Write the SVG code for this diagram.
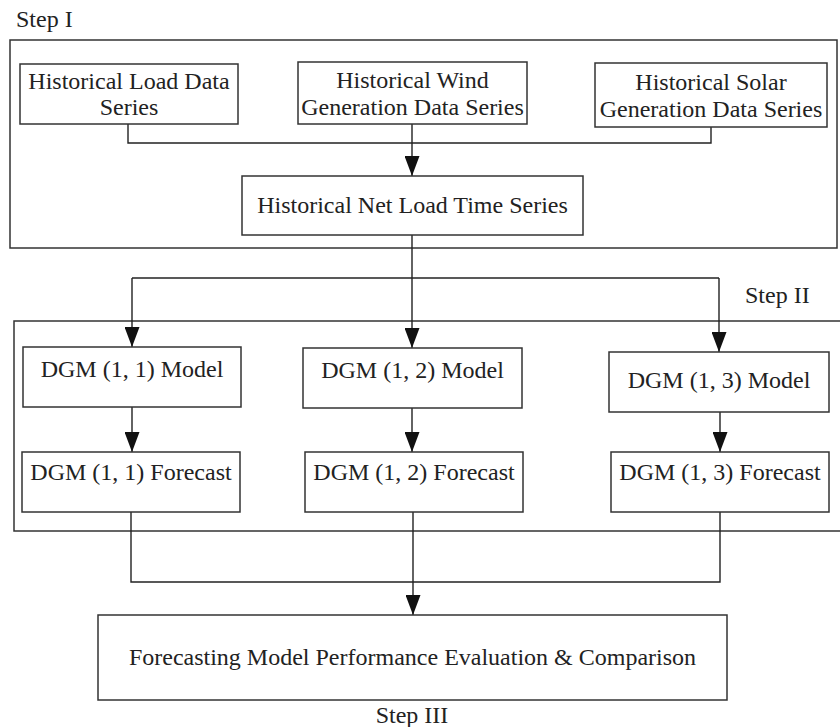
<svg xmlns="http://www.w3.org/2000/svg" width="840" height="727" viewBox="0 0 840 727">
<style>
.box{fill:#fff;stroke:#333;stroke-width:1.5}
.frame{fill:none;stroke:#333;stroke-width:1.5}
.ln{fill:none;stroke:#222;stroke-width:1.4}
</style>
<defs>
<marker id="arr" viewBox="0 0 20 15" refX="20" refY="7.5" markerWidth="20" markerHeight="15" markerUnits="userSpaceOnUse" orient="auto">
<path d="M0,0 L20,7.5 L0,15 Z" fill="#111"/>
</marker>
</defs>
<rect id="stepI" class="frame" x="10" y="40" width="827" height="208"/>
<path id="stepII" class="frame" d="M842,321 H14 V531 H842"/>
<text x="16" y="27" font-family="Liberation Serif, serif" font-size="24" fill="#222">Step I</text>
<text x="745" y="303" font-family="Liberation Serif, serif" font-size="24" fill="#222">Step II</text>
<text x="412" y="723" text-anchor="middle" font-family="Liberation Serif, serif" font-size="24" fill="#222">Step III</text>
<g id="connectors">
<path class="ln" d="M128,124 V143 H711 V127"/>
<path class="ln" d="M412,124 V176" marker-end="url(#arr)"/>
<path class="ln" d="M412,235 V278"/>
<path class="ln" d="M132,278 H719"/>
<path class="ln" d="M132,278 V347" marker-end="url(#arr)"/>
<path class="ln" d="M412,278 V348" marker-end="url(#arr)"/>
<path class="ln" d="M719,278 V352" marker-end="url(#arr)"/>
<path class="ln" d="M132,407 V452" marker-end="url(#arr)"/>
<path class="ln" d="M412,408 V452" marker-end="url(#arr)"/>
<path class="ln" d="M720,412 V452" marker-end="url(#arr)"/>
<path class="ln" d="M131,512 V582 H720 V512"/>
<path class="ln" d="M413,512 V615" marker-end="url(#arr)"/>
</g>
<g id="load"><rect class="box" x="20" y="64" width="218" height="60"/><text x="129" y="89" text-anchor="middle" font-family="Liberation Serif, serif" font-size="24" fill="#222">Historical Load Data</text><text x="129" y="115" text-anchor="middle" font-family="Liberation Serif, serif" font-size="24" fill="#222">Series</text></g>
<g id="wind"><rect class="box" x="298" y="62" width="229" height="62"/><text x="412.5" y="88" text-anchor="middle" font-family="Liberation Serif, serif" font-size="24" fill="#222">Historical Wind</text><text x="412.5" y="115" text-anchor="middle" font-family="Liberation Serif, serif" font-size="24" fill="#222">Generation Data Series</text></g>
<g id="solar"><rect class="box" x="595" y="63" width="232" height="64"/><text x="711" y="90" text-anchor="middle" font-family="Liberation Serif, serif" font-size="24" fill="#222">Historical Solar</text><text x="711" y="117" text-anchor="middle" font-family="Liberation Serif, serif" font-size="24" fill="#222">Generation Data Series</text></g>
<g id="netload"><rect class="box" x="242" y="176" width="341" height="59"/><text x="412.5" y="213" text-anchor="middle" font-family="Liberation Serif, serif" font-size="24" fill="#222">Historical Net Load Time Series</text></g>
<g id="m1"><rect class="box" x="23" y="347" width="218" height="60"/><text x="132" y="377" text-anchor="middle" font-family="Liberation Serif, serif" font-size="24" fill="#222">DGM (1, 1) Model</text></g>
<g id="m2"><rect class="box" x="303" y="348" width="219" height="60"/><text x="412.5" y="378" text-anchor="middle" font-family="Liberation Serif, serif" font-size="24" fill="#222">DGM (1, 2) Model</text></g>
<g id="m3"><rect class="box" x="609" y="352" width="220" height="60"/><text x="719" y="388" text-anchor="middle" font-family="Liberation Serif, serif" font-size="24" fill="#222">DGM (1, 3) Model</text></g>
<g id="f1"><rect class="box" x="22" y="452" width="218" height="60"/><text x="131" y="480" text-anchor="middle" font-family="Liberation Serif, serif" font-size="24" fill="#222">DGM (1, 1) Forecast</text></g>
<g id="f2"><rect class="box" x="305" y="452" width="218" height="60"/><text x="414" y="480" text-anchor="middle" font-family="Liberation Serif, serif" font-size="24" fill="#222">DGM (1, 2) Forecast</text></g>
<g id="f3"><rect class="box" x="611" y="452" width="218" height="60"/><text x="720" y="480" text-anchor="middle" font-family="Liberation Serif, serif" font-size="24" fill="#222">DGM (1, 3) Forecast</text></g>
<g id="eval"><rect class="box" x="98" y="615" width="629" height="85"/><text x="412.5" y="665" text-anchor="middle" font-family="Liberation Serif, serif" font-size="24" fill="#222">Forecasting Model Performance Evaluation &amp; Comparison</text></g>
</svg>
